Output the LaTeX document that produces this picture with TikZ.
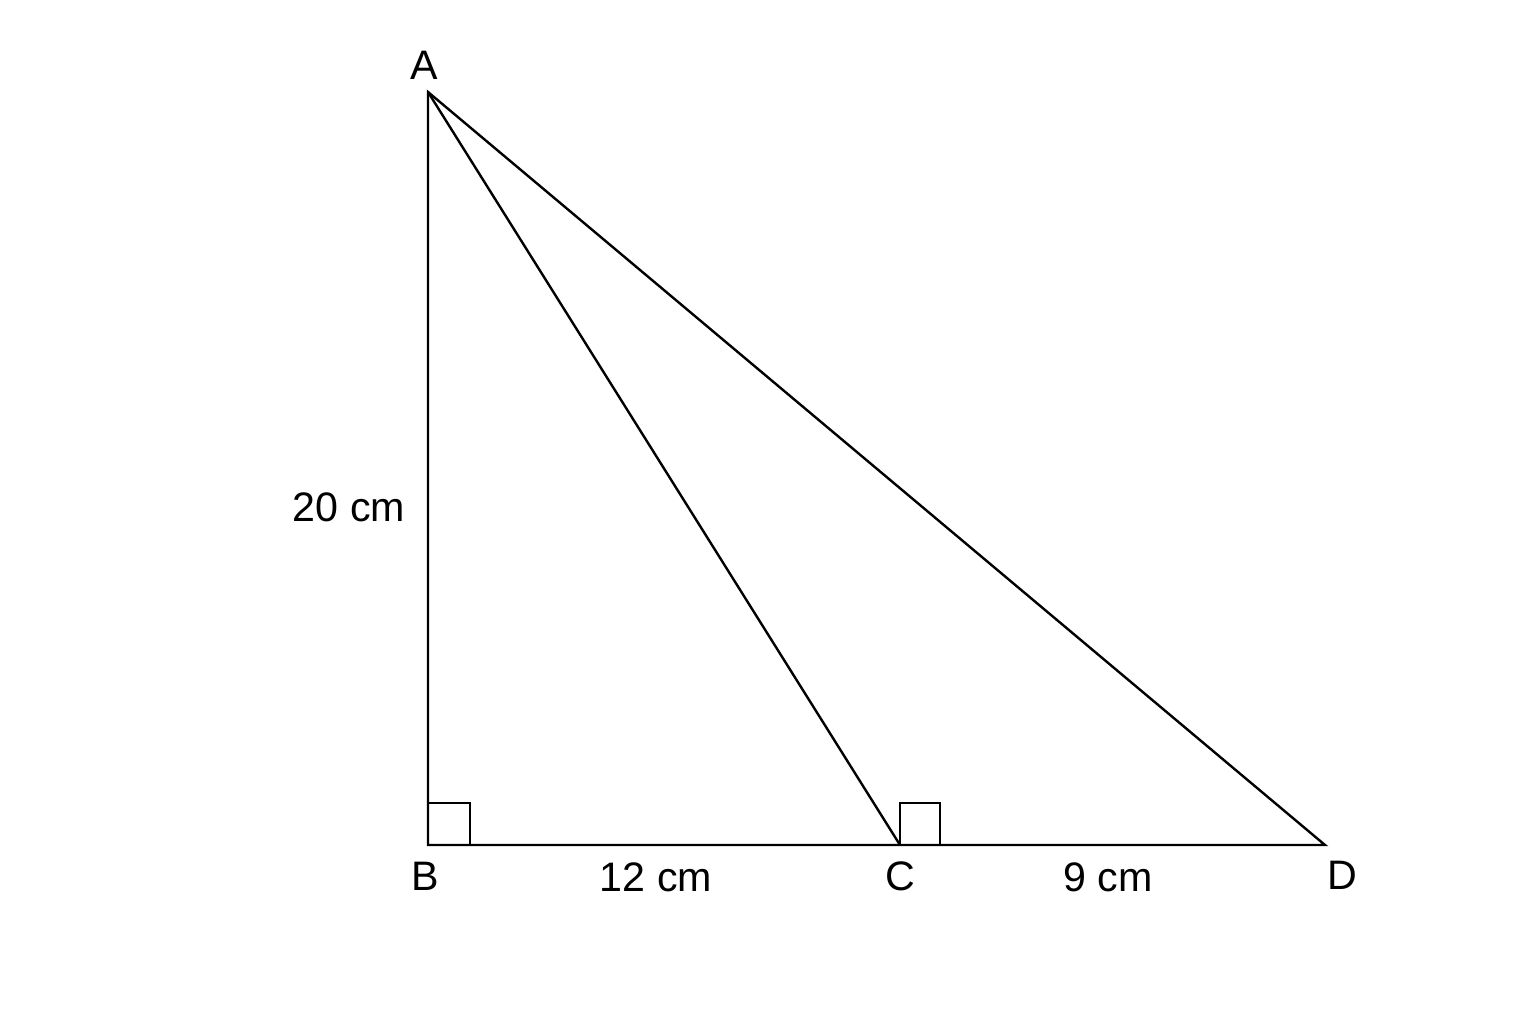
\documentclass[tikz,border=0pt]{standalone}
\usepackage{fontspec}
\setmainfont{Liberation Sans}
\begin{document}
\begin{tikzpicture}[x=0.5pt,y=-0.5pt,
  edge/.style={draw=black,line width=1.2pt,line join=miter},
  rightmark/.style={draw=black,line width=1.1pt},
  lbl/.style={font=\fontsize{20.6}{24}\selectfont,inner sep=0pt,text=black,anchor=base}]
\useasboundingbox[fill=white] (0,0) rectangle (1536,1024);
\coordinate (A) at (428,92);
\coordinate (B) at (428,845);
\coordinate (C) at (900,845);
\coordinate (D) at (1325,845);
\draw[rightmark] (428,803) rectangle (470,845);
\draw[rightmark] (900,803) rectangle (940,845);
\draw[edge] (A) -- (B) -- (D) -- cycle;
\draw[edge] (A) -- (C);
\node[lbl] (la) at (424,79) {A};
\node[lbl] (lb) at (425,890) {B};
\node[lbl] (lc) at (900,890) {C};
\node[lbl] (ld) at (1342,889) {D};
\node[lbl] (l12) at (656,891) {12 cm};
\node[lbl] (l9) at (1108,891) {9 cm};
\node[lbl] (l20) at (349,521) {20 cm};
\end{tikzpicture}
\end{document}
